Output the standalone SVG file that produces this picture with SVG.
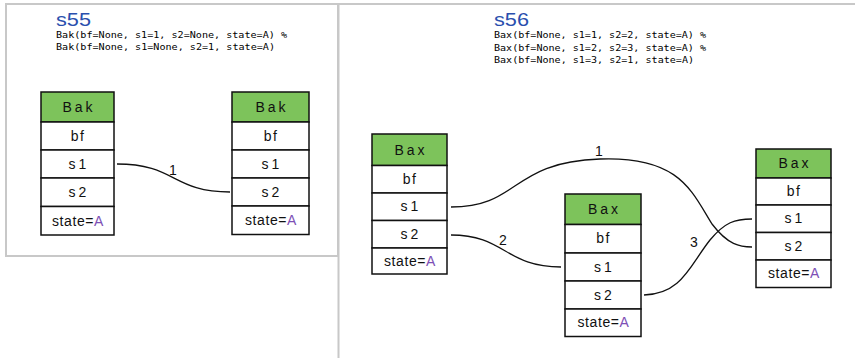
<svg xmlns="http://www.w3.org/2000/svg" width="855" height="358" viewBox="0 0 855 358">
  <style>
    .panel { fill: #ffffff; stroke: #c8c8c8; stroke-width: 2; }
    .title { font-family: "Liberation Sans", Arial, sans-serif; font-size: 18px; fill: #2a4fae; }
    .code { font-family: "DejaVu Sans Mono", "Liberation Mono", monospace; font-size: 9px; fill: #000000; }
    .hdr { fill: #7dc35b; stroke: #111111; stroke-width: 1.5; }
    .row { fill: #ffffff; stroke: #111111; stroke-width: 1.5; }
    .lbl { font-family: "Liberation Sans", Arial, sans-serif; font-size: 14px; fill: #111111; text-anchor: middle; }
    .sp { letter-spacing: 3px; }
    .sp2 { letter-spacing: 1.5px; }
    .st { font-family: "Liberation Sans", Arial, sans-serif; font-size: 14px; fill: #111111; text-anchor: middle; letter-spacing: 0.6px; }
    .a { fill: #7d4fb5; }
    .edge { fill: none; stroke: #111111; stroke-width: 1.3; }
    .elbl { font-family: "Liberation Sans", Arial, sans-serif; font-size: 14px; fill: #111111; text-anchor: middle; }
  </style>

  <rect width="855" height="358" fill="#ffffff"/>

  <!-- panels -->
  <g id="panel-s55">
    <rect class="panel" x="6" y="4" width="332" height="252"/>
    <text class="title" x="56" y="26" textLength="35" lengthAdjust="spacingAndGlyphs">s55</text>
    <text class="code" x="56" y="37.5" textLength="231" lengthAdjust="spacingAndGlyphs">Bak(bf=None, s1=1, s2=None, state=A) %</text>
    <text class="code" x="56" y="50" textLength="219" lengthAdjust="spacingAndGlyphs">Bak(bf=None, s1=None, s2=1, state=A)</text>
  </g>
  <g id="panel-s56">
    <rect class="panel" x="338.5" y="4" width="520" height="360"/>
    <text class="title" x="494" y="26" textLength="35" lengthAdjust="spacingAndGlyphs">s56</text>
    <text class="code" x="494" y="38" textLength="212" lengthAdjust="spacingAndGlyphs">Bax(bf=None, s1=1, s2=2, state=A) %</text>
    <text class="code" x="494" y="50.5" textLength="212" lengthAdjust="spacingAndGlyphs">Bax(bf=None, s1=2, s2=3, state=A) %</text>
    <text class="code" x="494" y="63" textLength="200" lengthAdjust="spacingAndGlyphs">Bax(bf=None, s1=3, s2=1, state=A)</text>
  </g>

  <!-- connectors -->
  <g id="connectors">
    <path class="edge" d="M117,164 C176,164 172,192 230,192"/>
    <text class="elbl" x="173" y="175">1</text>

    <path class="edge" d="M451,207 C520,207 510,162 600,159 C680,156 692,192 712,224 C728,245 740,247 752,247"/>
    <text class="elbl" x="599" y="156">1</text>

    <path class="edge" d="M451,235 C505,235 505,267 561,267"/>
    <text class="elbl" x="503" y="245">2</text>

    <path class="edge" d="M644,295 C682,294 690,265 710,240 C725,222 735,219 752,219"/>
    <text class="elbl" x="694" y="247">3</text>
  </g>

  <!-- Bak (left) -->
  <g id="bak-1">
    <rect class="hdr" x="41" y="92" width="73" height="30"/>
    <rect class="row" x="41" y="122" width="73" height="28"/>
    <rect class="row" x="41" y="150" width="73" height="28"/>
    <rect class="row" x="41" y="178" width="73" height="28.5"/>
    <rect class="row" x="41" y="206.5" width="73" height="28.5"/>
    <text class="lbl sp" x="79" y="112">Bak</text>
    <text class="lbl sp2" x="78" y="141">bf</text>
    <text class="lbl sp" x="79" y="169">s1</text>
    <text class="lbl sp" x="79" y="197">s2</text>
    <text class="st" x="78" y="226">state=<tspan class="a">A</tspan></text>
  </g>

  <!-- Bak (right) -->
  <g id="bak-2">
    <rect class="hdr" x="232" y="92" width="77" height="30"/>
    <rect class="row" x="232" y="122" width="77" height="28"/>
    <rect class="row" x="232" y="150" width="77" height="28"/>
    <rect class="row" x="232" y="178" width="77" height="28"/>
    <rect class="row" x="232" y="206" width="77" height="28.5"/>
    <text class="lbl sp" x="272" y="112">Bak</text>
    <text class="lbl sp2" x="271" y="141">bf</text>
    <text class="lbl sp" x="272" y="169">s1</text>
    <text class="lbl sp" x="272" y="197">s2</text>
    <text class="st" x="271" y="225">state=<tspan class="a">A</tspan></text>
  </g>

  <!-- Bax 1 -->
  <g id="bax-1">
    <rect class="hdr" x="372" y="134" width="75" height="31.5"/>
    <rect class="row" x="372" y="165.5" width="75" height="27.5"/>
    <rect class="row" x="372" y="193" width="75" height="27.5"/>
    <rect class="row" x="372" y="220.5" width="75" height="27.5"/>
    <rect class="row" x="372" y="248" width="75" height="26"/>
    <text class="lbl sp" x="411" y="155">Bax</text>
    <text class="lbl sp2" x="410" y="184">bf</text>
    <text class="lbl sp" x="411" y="211">s1</text>
    <text class="lbl sp" x="411" y="239">s2</text>
    <text class="st" x="410" y="266">state=<tspan class="a">A</tspan></text>
  </g>

  <!-- Bax 2 -->
  <g id="bax-2">
    <rect class="hdr" x="565" y="194" width="76" height="30.5"/>
    <rect class="row" x="565" y="224.5" width="76" height="28.5"/>
    <rect class="row" x="565" y="253" width="76" height="28"/>
    <rect class="row" x="565" y="281" width="76" height="28"/>
    <rect class="row" x="565" y="309" width="76" height="27.5"/>
    <text class="lbl sp" x="604.5" y="214">Bax</text>
    <text class="lbl sp2" x="603.5" y="243">bf</text>
    <text class="lbl sp" x="604.5" y="272">s1</text>
    <text class="lbl sp" x="604.5" y="300">s2</text>
    <text class="st" x="603.5" y="327">state=<tspan class="a">A</tspan></text>
  </g>

  <!-- Bax 3 -->
  <g id="bax-3">
    <rect class="hdr" x="756" y="149" width="75" height="29"/>
    <rect class="row" x="756" y="178" width="75" height="27"/>
    <rect class="row" x="756" y="205" width="75" height="27.5"/>
    <rect class="row" x="756" y="232.5" width="75" height="27.5"/>
    <rect class="row" x="756" y="260" width="75" height="27.5"/>
    <text class="lbl sp" x="795" y="168">Bax</text>
    <text class="lbl sp2" x="794" y="196">bf</text>
    <text class="lbl sp" x="795" y="223">s1</text>
    <text class="lbl sp" x="795" y="251">s2</text>
    <text class="st" x="794" y="278">state=<tspan class="a">A</tspan></text>
  </g>
</svg>
